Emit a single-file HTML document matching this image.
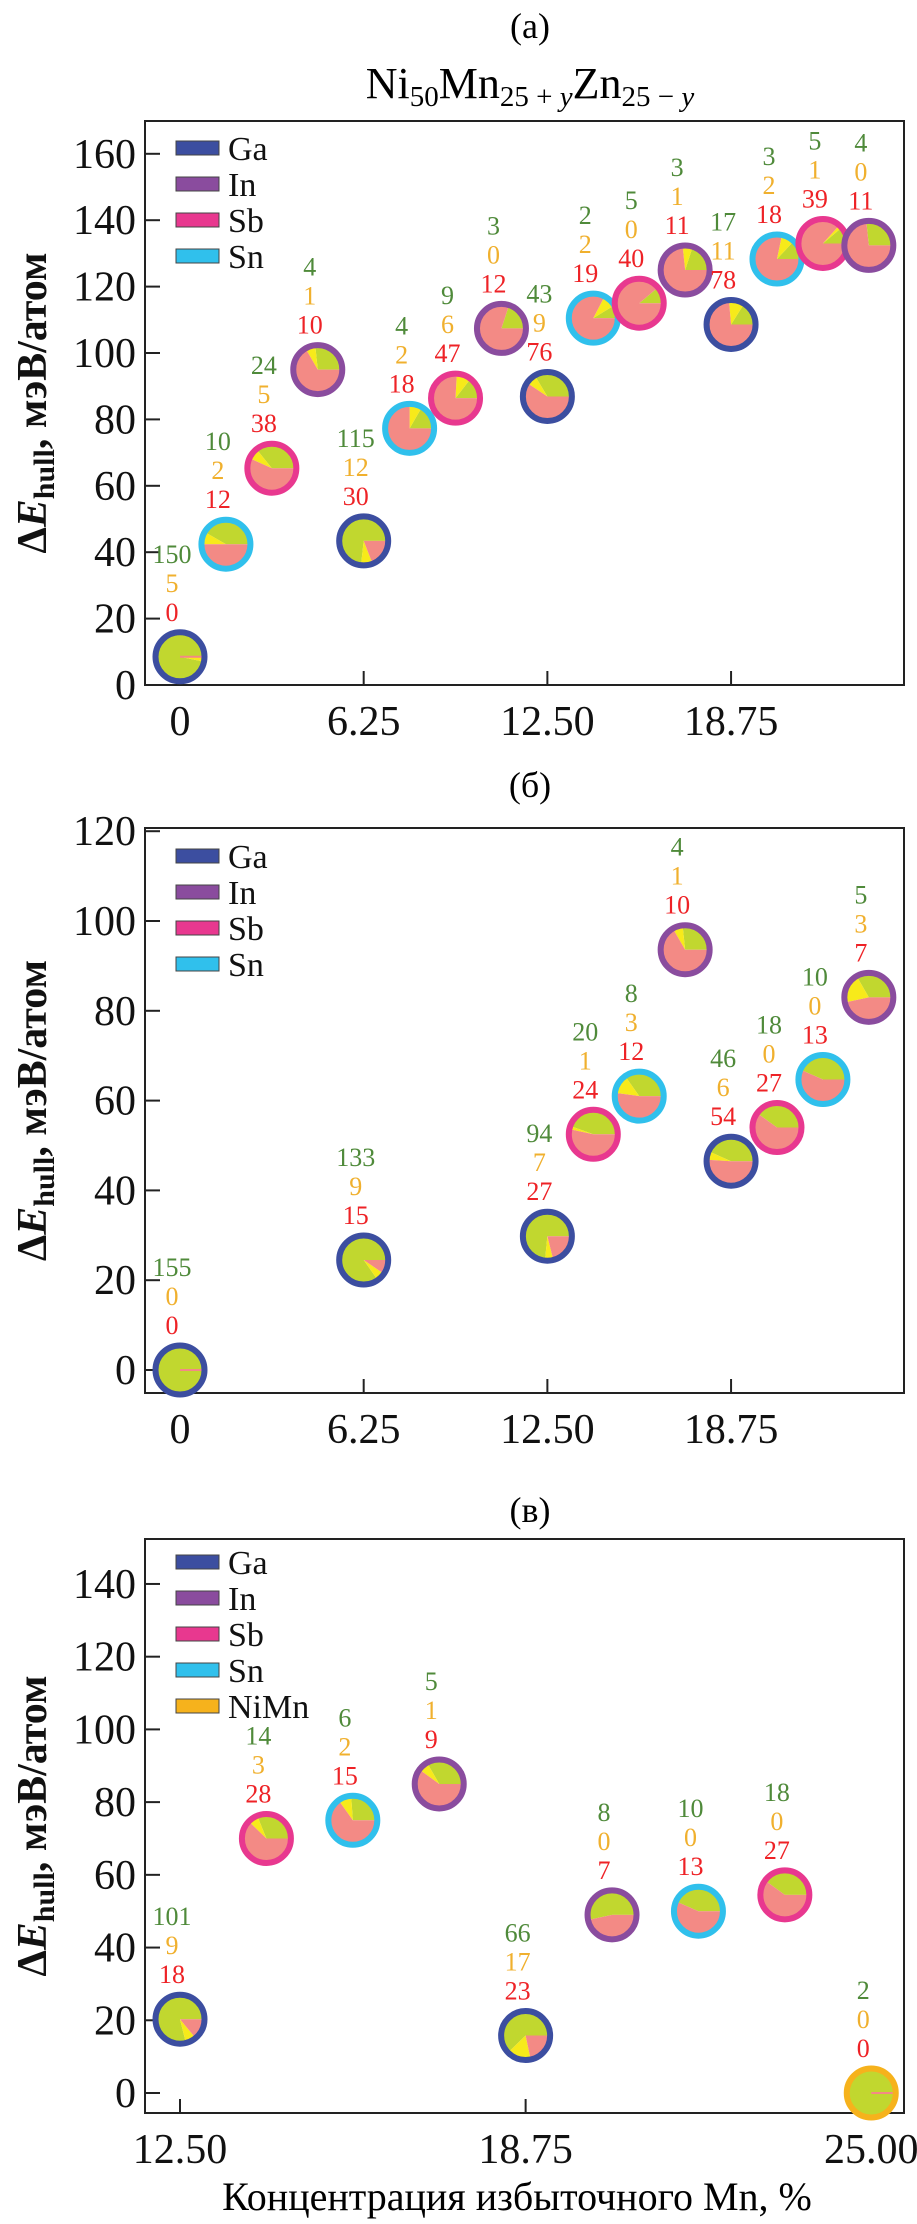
<!DOCTYPE html>
<html><head><meta charset="utf-8">
<style>
html,body{margin:0;padding:0;background:#fff;}
svg{display:block;font-family:"Liberation Serif",serif;}
text{font-family:"Liberation Serif",serif;}
</style></head>
<body>
<svg id="chart" width="917" height="2224" viewBox="0 0 917 2224" xmlns="http://www.w3.org/2000/svg">
<text x="530" y="38" font-size="36" text-anchor="middle">(a)</text>
<text x="530" y="98" font-size="44" text-anchor="middle">Ni<tspan font-size="29" dy="8">50</tspan><tspan dy="-8">Mn</tspan><tspan font-size="29" dy="8">25 + </tspan><tspan font-size="29" font-style="italic">y</tspan><tspan dy="-8">Zn</tspan><tspan font-size="29" dy="8">25 − </tspan><tspan font-size="29" font-style="italic">y</tspan></text>
<text x="530" y="797" font-size="36" text-anchor="middle">(б)</text>
<text x="530" y="1522" font-size="36" text-anchor="middle">(в)</text>
<text x="517" y="2210" font-size="40" text-anchor="middle">Концентрация избыточного Mn, %</text>
<g id="layer"></g>
</svg>
<script>
// Panel (a)
const aX = [0, 1.5625, 3.125, 4.6875, 6.25, 7.8125, 9.375, 10.9375, 12.5, 14.0625, 15.625, 17.1875, 18.75, 20.3125, 21.875, 23.4375];
const aY = [8.5, 42.4, 65.3, 95, 43.4, 77.3, 86.4, 107.4, 86.9, 110.5, 115, 125, 108.6, 128.3, 133, 132.4];
const aType = ["Ga","Sn","Sb","In","Ga","Sn","Sb","In","Ga","Sn","Sb","In","Ga","Sn","Sb","In"];
const aGreen = [150, 10, 24, 4, 115, 4, 9, 3, 43, 2, 5, 3, 17, 3, 5, 4];
const aYellow = [5, 2, 5, 1, 12, 2, 6, 0, 9, 2, 0, 1, 11, 2, 1, 0];
const aRed = [0, 12, 38, 10, 30, 18, 47, 12, 76, 19, 40, 11, 78, 18, 39, 11];
const aYTicks = [0, 20, 40, 60, 80, 100, 120, 140, 160];
const abXTicks = [0, 6.25, 12.5, 18.75];
const abXTickLabels = ["0", "6.25", "12.50", "18.75"];
// Panel (b)
const bX = [0, 6.25, 12.5, 14.0625, 15.625, 17.1875, 18.75, 20.3125, 21.875, 23.4375];
const bY = [0, 24.5, 29.8, 52.5, 61, 93.6, 46.5, 54, 64.7, 83];
const bType = ["Ga","Ga","Ga","Sb","Sn","In","Ga","Sb","Sn","In"];
const bGreen = [155, 133, 94, 20, 8, 4, 46, 18, 10, 5];
const bYellow = [0, 9, 7, 1, 3, 1, 6, 0, 0, 3];
const bRed = [0, 15, 27, 24, 12, 10, 54, 27, 13, 7];
const bYTicks = [0, 20, 40, 60, 80, 100, 120];
// Panel (c)
const cX = [12.5, 14.0625, 15.625, 17.1875, 18.75, 20.3125, 21.875, 23.4375, 25];
const cY = [20.3, 70, 75, 85, 15.8, 49, 50, 54.5, 0];
const cType = ["Ga","Sb","Sn","In","Ga","In","Sn","Sb","NiMn"];
const cGreen = [101, 14, 6, 5, 66, 8, 10, 18, 2];
const cYellow = [9, 3, 2, 1, 17, 0, 0, 0, 0];
const cRed = [18, 28, 15, 9, 23, 7, 13, 27, 0];
const cYTicks = [0, 20, 40, 60, 80, 100, 120, 140];
const cXTicks = [12.5, 18.75, 25];
const cXTickLabels = ["12.50", "18.75", "25.00"];

const NS = "http://www.w3.org/2000/svg";
const layer = document.getElementById("layer");
const ring = {Ga:"#3c4ea0", In:"#8a4c9e", Sb:"#e8388f", Sn:"#30c0ec", NiMn:"#f6b21c"};
function mk(tag, attrs, parent){const e=document.createElementNS(NS,tag);for(const k in attrs)e.setAttribute(k,attrs[k]);(parent||layer).appendChild(e);return e;}

function panel(p){
  const g = mk("g",{});
  
  
  const xs=v=>p.x0+(v-p.xmin)*p.kx, ys=v=>p.y0-v*p.ky;
  const frame = mk("rect",{x:145,y:p.top,width:759,height:p.bottom-p.top,fill:"none",stroke:"#222","stroke-width":2},g);
  
  
  p.yt.forEach(v=>{
    const t=mk("line",{x1:145,x2:160,y1:ys(v),y2:ys(v),stroke:"#222","stroke-width":2},g);
    
    
    const l=mk("text",{x:136,y:ys(v)+14,"font-size":42,"text-anchor":"end",fill:"#111"},g);
    l.textContent=v;
    
    
  });
  p.xt.forEach((v,i)=>{
    const t=mk("line",{x1:xs(v),x2:xs(v),y1:p.bottom,y2:p.bottom-14,stroke:"#222","stroke-width":2},g);
    
    
    const l=mk("text",{x:xs(v),y:p.bottom+50,"font-size":42,"text-anchor":"middle",fill:"#111"},g);
    l.textContent=p.xtl[i];
    
    
  });
  const yc=(p.top+p.bottom)/2;
  const yt=mk("text",{transform:`translate(46,${yc}) rotate(-90)`,"font-size":42,"font-weight":"bold","text-anchor":"middle",fill:"#111"},g);
  yt.innerHTML='Δ<tspan font-style="italic">E</tspan><tspan font-size="30" dy="8">hull</tspan><tspan dy="-8">, мэВ/атом</tspan>';
  
  
  p.leg.forEach((nm,i)=>{
    const y=p.legY+i*36;
    const s=mk("rect",{x:176,y:y-7,width:43,height:14,fill:ring[nm],stroke:"#444","stroke-width":1},g);
    
    
    const t=mk("text",{x:228,y:y+12,"font-size":34,fill:"#111"},g);
    t.textContent=nm;
    
    
  });
  p.X.forEach((xv,i)=>{
    const cx=xs(xv), cy=ys(p.Y[i]), r=24;
    const pg=mk("g",{},g);
    
    
    const G=p.G[i],Yw=p.Yl[i],R=p.R[i],tot=G+Yw+R;
    const segs=[[G,"#c1d72f"],[Yw,"#f7ea1a"],[R,"#f38a85"]];
    let a0=0;
    segs.forEach(([v,col])=>{
      if(v<=0) return;
      const a1=a0+v/tot*2*Math.PI;
      let el;
      if(v===tot){ el=mk("circle",{cx,cy,r,fill:col},pg); }
      else{
        const x0=cx+r*Math.cos(a0),y0=cy-r*Math.sin(a0),x1=cx+r*Math.cos(a1),y1=cy-r*Math.sin(a1);
        const large=(a1-a0)>Math.PI?1:0;
        el=mk("path",{d:`M${cx},${cy} L${x0},${y0} A${r},${r} 0 ${large} 0 ${x1},${y1} Z`,fill:col},pg);
      }
      
      
      a0=a1;
    });
    if(R===0){
      const ln=mk("line",{x1:cx,y1:cy,x2:cx+r,y2:cy,stroke:"#f38a85","stroke-width":2},pg);
      
      
    }
    const rc=mk("circle",{cx,cy,r:r+0.5,fill:"none",stroke:ring[p.T[i]],"stroke-width":6},pg);
    
    
    [[G,"#4f8a3a",-103],[Yw,"#f0b02e",-74],[R,"#ee2226",-45]].forEach(([v,col,dy])=>{
      const t=mk("text",{x:cx-8,y:cy+dy+9,"font-size":26,"font-family":"Liberation Serif, serif","text-anchor":"middle",fill:col},pg);
      t.textContent=v;
      
      
    });
  });
}
panel({id:"panel-a",top:121,bottom:685,x0:180,xmin:0,kx:29.39,y0:685,ky:3.32,yt:aYTicks,xt:abXTicks,xtl:abXTickLabels,
  leg:["Ga","In","Sb","Sn"],legY:148,X:aX,Y:aY,T:aType,G:aGreen,Yl:aYellow,R:aRed});
panel({id:"panel-b",top:828,bottom:1393,x0:180,xmin:0,kx:29.39,y0:1370,ky:4.49,yt:bYTicks,xt:abXTicks,xtl:abXTickLabels,
  leg:["Ga","In","Sb","Sn"],legY:856,X:bX,Y:bY,T:bType,G:bGreen,Yl:bYellow,R:bRed});
panel({id:"panel-c",top:1539,bottom:2113,x0:180,xmin:12.5,kx:55.3,y0:2093,ky:3.636,yt:cYTicks,xt:cXTicks,xtl:cXTickLabels,
  leg:["Ga","In","Sb","Sn","NiMn"],legY:1562,X:cX,Y:cY,T:cType,G:cGreen,Yl:cYellow,R:cRed});
</script>
</body></html>
